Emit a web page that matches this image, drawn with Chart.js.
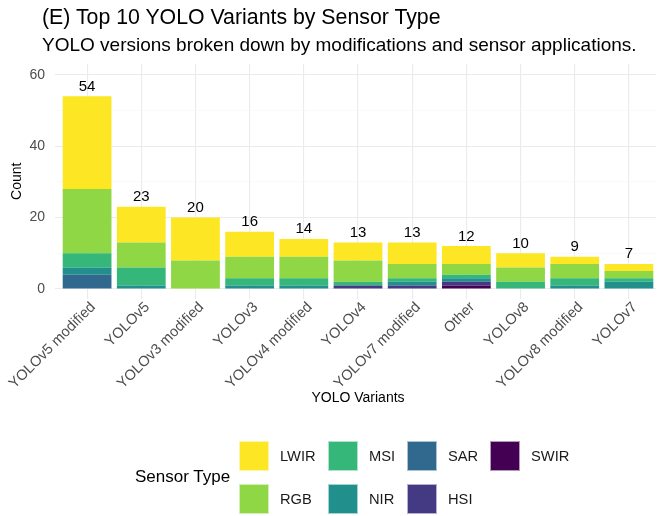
<!DOCTYPE html>
<html><head><meta charset="utf-8">
<script src="https://cdn.jsdelivr.net/npm/chart.js@4/dist/chart.umd.min.js"></script>
<style>
html,body{margin:0;padding:0;background:#fff}
body{width:657px;height:516px;overflow:hidden;position:relative;font-family:"Liberation Sans",Arial,sans-serif}
#c{position:absolute;left:0;top:0}
.t{position:absolute;white-space:nowrap;color:#000}
.key{position:absolute;width:30px;height:30px;box-sizing:border-box;border:1px solid rgba(255,255,255,0.6)}
.lab{position:absolute;white-space:nowrap;font-size:14.7px;color:#1a1a1a;line-height:30px}
</style></head><body>
<canvas id="c" width="657" height="516"></canvas>
<div class="t" style="left:42px;top:5px;font-size:21.3px;line-height:24px">(E) Top 10 YOLO Variants by Sensor Type</div>
<div class="t" style="left:42px;top:35px;font-size:19px;line-height:20px">YOLO versions broken down by modifications and sensor applications.</div>
<div id="legend"></div>
<script>
// ---- data ----
const categories = ['YOLOv5 modified','YOLOv5','YOLOv3 modified','YOLOv3','YOLOv4 modified','YOLOv4','YOLOv7 modified','Other','YOLOv8','YOLOv8 modified','YOLOv7'];
const sensorTypes = ['SWIR','HSI','SAR','NIR','MSI','RGB','LWIR']; // bottom -> top
const swir = [0,0,0,0,0,0,0,1,0,0,0];
const hsi  = [0,0,0,0,0,1,1,1,0,0,0];
const sar  = [4,0,0,0,0,0,0,0,0,0,0];
const nir  = [2,1,0,1,1,0,1,1,0,1,2];
const msi  = [4,5,0,2,2,1,1,1,2,2,1];
const rgb  = [18,7,8,6,6,6,4,3,4,4,2];
const lwir = [26,10,12,7,5,5,6,5,4,2,2];
const yTickLabels = [0,20,40,60];
const legendOrder = ['LWIR','RGB','MSI','NIR','SAR','HSI','SWIR'];

// ---- styles ----
const colors = {SWIR:'#440154',HSI:'#443A83',SAR:'#31688E',NIR:'#21908C',MSI:'#35B779',RGB:'#8FD744',LWIR:'#FDE725'};
const FAM = '"Liberation Sans", Arial, sans-serif';
const seriesValues = {SWIR:swir,HSI:hsi,SAR:sar,NIR:nir,MSI:msi,RGB:rgb,LWIR:lwir};

const datasets = sensorTypes.map(s => ({
  label: s, data: seriesValues[s], backgroundColor: colors[s],
  borderWidth: 0, barPercentage: 0.9, categoryPercentage: 1.0
}));

const totalsPlugin = {
  id: 'totals',
  afterDatasetsDraw(chart) {
    const {ctx, scales:{x, y}} = chart;
    ctx.save();
    ctx.font = '15px ' + FAM;
    ctx.fillStyle = '#000';
    ctx.textAlign = 'center';
    ctx.textBaseline = 'alphabetic';
    categories.forEach((c, i) => {
      const total = chart.data.datasets.reduce((s, d) => s + d.data[i], 0);
      ctx.fillText(String(total), x.getPixelForValue(i), y.getPixelForValue(total) - 5.5);
    });
    ctx.restore();
  }
};

new Chart(document.getElementById('c'), {
  type: 'bar',
  data: {labels: categories, datasets},
  options: {
    responsive: false, animation: false,
    layout: {padding: {top: 64, right: 1, bottom: 106, left: 0}},
    plugins: {legend: {display: false}, tooltip: {enabled: false}},
    scales: {
      x: {
        stacked: true,
        grid: {offset: false, color: '#ebebeb', lineWidth: 1.1, drawTicks: false},
        border: {display: false},
        ticks: {autoSkip: false, minRotation: 45, maxRotation: 45, color: '#4d4d4d', font: {size: 14.6, family: FAM}, padding: 0, labelOffset: 6},
        title: {display: true, text: 'YOLO Variants', color: '#000', font: {size: 14, family: FAM}, padding: {top: 0, bottom: 3}},
        afterFit(s) { s.height = 111.4; }
      },
      y: {
        stacked: true, min: -2.7, max: 63,
        ticks: {stepSize: 10, includeBounds: false, callback: v => yTickLabels.includes(v) ? String(v) : '', color: '#4d4d4d', font: {size: 14, family: FAM}, padding: 10},
        grid: {
          color: c => (c.tick && yTickLabels.includes(c.tick.value)) ? '#ebebeb' : '#f5f5f5',
          lineWidth: c => (c.tick && yTickLabels.includes(c.tick.value)) ? 1.1 : 0.6,
          drawTicks: true, tickLength: 5
        },
        border: {display: false},
        title: {display: true, text: 'Count', color: '#000', font: {size: 14, family: FAM}, padding: {top: 8.6, bottom: 0}},
        afterFit(s) { s.width = 60; }
      }
    }
  },
  plugins: [totalsPlugin]
});

// ---- legend (HTML) ----
const lg = document.getElementById('legend');
const colX = [239, 328, 407, 490];
const rowY = [441, 483.5];
const ttl = document.createElement('div');
ttl.className = 't';
ttl.style.cssText = 'left:135px;top:467px;font-size:17px;line-height:20px;color:#000';
ttl.textContent = 'Sensor Type';
lg.appendChild(ttl);
legendOrder.forEach((s, i) => {
  const col = Math.floor(i / 2), row = i % 2;
  const k = document.createElement('div');
  k.className = 'key';
  k.style.left = colX[col] + 'px'; k.style.top = rowY[row] + 'px'; k.style.background = colors[s];
  lg.appendChild(k);
  const l = document.createElement('div');
  l.className = 'lab';
  l.style.left = (colX[col] + 41) + 'px'; l.style.top = rowY[row] + 'px';
  l.textContent = s;
  lg.appendChild(l);
});
</script>
</body></html>
